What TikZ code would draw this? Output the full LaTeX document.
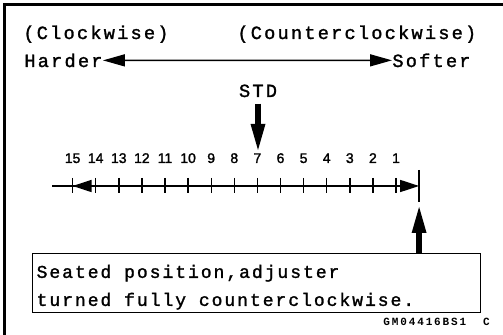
\documentclass[tikz,border=0pt]{standalone}
\usepackage{fontspec}
\setmainfont{Liberation Sans}[FakeBold=1.5]
\newfontfamily\monofnt[LetterSpace=12,FakeBold=1.5]{Liberation Mono}
\newfontfamily\notefnt[LetterSpace=11,FakeBold=1.5]{Liberation Mono}
\newfontfamily\codefnt[LetterSpace=17]{Liberation Mono}
\newcommand{\wsp}{\hspace{6.4pt}}
\usetikzlibrary{arrows.meta, positioning}
\tikzset{
    lbl/.style={
        font={\monofnt\fontsize{9.3pt}{14pt}\selectfont},
        inner sep=0pt
    },
    num/.style={
        font={\fontsize{7pt}{8pt}\selectfont},
        inner sep=0pt, anchor=base
    },
    box/.style={
        rectangle, draw=black, line width=0.65pt,
        minimum width=224pt, minimum height=29.5pt,
        text width=220pt, align=left, inner xsep=2pt, inner ysep=0pt,
        font={\notefnt\fontsize{9pt}{14pt}\selectfont}
    },
    dirarrow/.style={{Triangle[length=11pt,width=6pt]}-{Triangle[length=11pt,width=6pt]}, line width=0.75pt},
    numline/.style={line width=0.7pt},
    fatarrow/.style={-{Triangle[length=13pt,width=7.5pt,line width=0pt]}, line width=2.8pt}
}
\begin{document}
\begin{tikzpicture}[x=0.5pt, y=-0.5pt]
    \useasboundingbox (0,0) rectangle (503,335);
    % frame (cut at right and bottom)
    \draw[line width=1.25pt] (4.5,335) -- (4.5,4.5) -- (503,4.5);

    \node[lbl, anchor=base west] (cw) at (23,39) {(Clockwise)};
    \node[lbl, anchor=base west] (ccw) at (237,39) {(Counterclockwise)};
    \node[lbl, anchor=base west] (harder) at (24,67) {Harder};
    \node[lbl, anchor=base west] (softer) at (392,67) {Softer};
    \draw[dirarrow] (harder.east) -- (softer.west);

    \node[lbl, anchor=base] (std) at (258,97) {STD};

    % scale
    \coordinate (lstart) at (52,186);
    \foreach \n [evaluate=\n as \x using 419.1-\n*23.1] in {0,...,15}
        \coordinate (t\n) at (\x,186);
    \foreach \n [evaluate=\n as \x using 419.1-\n*23.1] in {1,...,15} {
        \draw[numline] (\x,178) -- (\x,193);
        \node[num] (n\n) at (\x,163) {\n};
    }
    \draw[numline, -{Triangle[length=9.5pt,width=6pt]}] (lstart) -- (t0);
    \draw[numline, -{Triangle[length=9.5pt,width=6pt]}] (t14) -- (t15);
    \draw[numline] (t0) ++(0,-16) -- ++(0,32) coordinate (stopend);

    \draw[fatarrow, shorten <=3pt, shorten >=1.5pt] (std.south) -- (std.south |- n7.north);

    \node[box, anchor=north west] (seated) at (32,253) {\rule{0pt}{10.6pt}Seated\wsp position,adjuster\\turned\wsp fully\wsp counterclockwise.};
    \draw[fatarrow, shorten >=2.5pt] (seated.north -| t0) -- (stopend);

    \node[font={\codefnt\bfseries\fontsize{5.5pt}{6pt}\selectfont}, inner sep=0pt, anchor=base west] (figid) at (383,326) {GM04416BS1\ \ C};
\end{tikzpicture}
\end{document}
